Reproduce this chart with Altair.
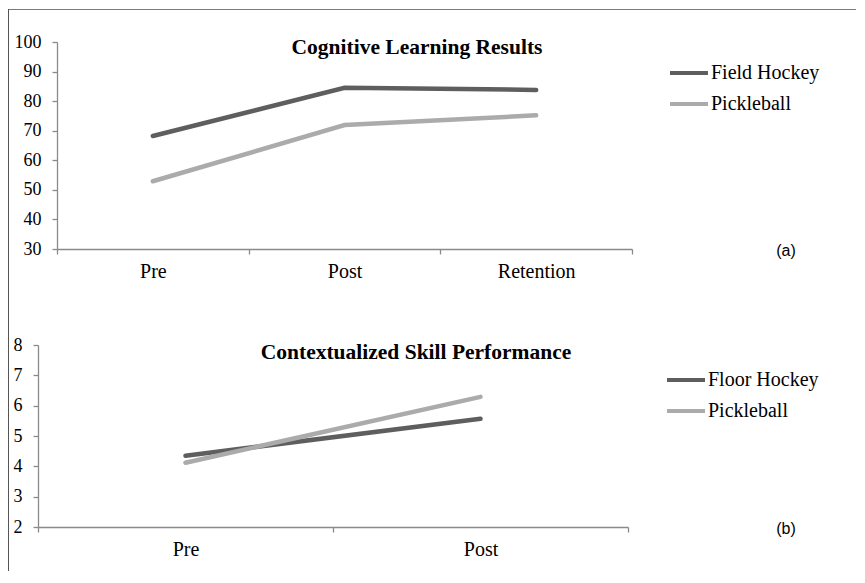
import altair as alt
import pandas as pd

# ---- data ----
phases_a = ["Pre", "Post", "Retention"]
series_a = ["Field Hockey", "Pickleball"]
field_hockey = [68.2, 84.5, 83.8]
pickleball_a = [52.9, 71.9, 75.2]
y_ticks_a = [30, 40, 50, 60, 70, 80, 90, 100]
title_a = "Cognitive Learning Results"
tag_a = "(a)"

phases_b = ["Pre", "Post"]
series_b = ["Floor Hockey", "Pickleball"]
floor_hockey = [4.35, 5.57]
pickleball_b = [4.12, 6.29]
y_ticks_b = [2, 3, 4, 5, 6, 7, 8]
title_b = "Contextualized Skill Performance"
tag_b = "(b)"

DARK = "#5e5e5e"
LIGHT = "#ababab"
AXIS = "#8a8a8a"
SERIF = "Liberation Serif"
SANS = "Liberation Sans"

df_a = pd.DataFrame({
    "phase": phases_a * 2,
    "score": field_hockey + pickleball_a,
    "series": [series_a[0]] * len(phases_a) + [series_a[1]] * len(phases_a),
})
df_b = pd.DataFrame({
    "phase": phases_b * 2,
    "score": floor_hockey + pickleball_b,
    "series": [series_b[0]] * len(phases_b) + [series_b[1]] * len(phases_b),
})


def x_axis():
    return alt.Axis(title=None, labelAngle=0, tickBand="extent", grid=False,
                    labelFont=SERIF, labelFontSize=20, labelColor="black",
                    domainColor=AXIS, tickColor=AXIS, tickSize=5,
                    domainWidth=1.3, tickWidth=1.3, labelPadding=7)


def y_axis(values, offset=0):
    return alt.Axis(values=values, title=None, grid=False, offset=offset,
                    labelFont=SERIF, labelFontSize=18, labelColor="black",
                    domainColor=AXIS, tickColor=AXIS, tickSize=5,
                    domainWidth=1.3, tickWidth=1.3, labelPadding=11)


def legend(x, y):
    return alt.Legend(orient="none", legendX=x, legendY=y, title=None,
                      symbolType="stroke", symbolSize=1444, symbolStrokeWidth=4,
                      labelFont=SERIF, labelFontSize=20, labelColor="black",
                      labelOffset=1, rowPadding=-4, padding=0)


def text_layer(txt, x, y, font, size, weight="normal"):
    return alt.Chart(pd.DataFrame({"t": [txt]})).mark_text(
        font=font, fontSize=size, fontWeight=weight, align="center",
        baseline="middle", color="black"
    ).encode(text="t:N", x=alt.value(x), y=alt.value(y))


# ---- panel (a) ----
lines_a = alt.Chart(df_a).mark_line(strokeWidth=4.5, strokeCap="round").encode(
    x=alt.X("phase:N", bandPosition=0.5,
            scale=alt.Scale(type="band", domain=phases_a, paddingInner=0, paddingOuter=0),
            axis=x_axis()),
    y=alt.Y("score:Q", scale=alt.Scale(domain=[30, 100], nice=False, zero=False),
            axis=y_axis(y_ticks_a)),
    color=alt.Color("series:N", scale=alt.Scale(domain=series_a, range=[DARK, LIGHT]),
                    legend=legend(611, 10)),
    detail="series:N",
)

frame_df = pd.DataFrame({"k": [0]})
frame_top = alt.Chart(frame_df).mark_rule(color="#7a7a7a", strokeWidth=1).encode(
    x=alt.value(-48.5), x2=alt.value(799), y=alt.value(-32.5))
frame_left = alt.Chart(frame_df).mark_rule(color="#555555", strokeWidth=1).encode(
    x=alt.value(-48.5), y=alt.value(-33), y2=alt.value(529))

panel_a = alt.layer(
    frame_top, frame_left, lines_a,
    text_layer(title_a, 360, 6, SERIF, 21.5, "bold"),
    text_layer(tag_a, 729, 209, SANS, 16),
).properties(width=575, height=207)

# ---- panel (b) ----
lines_b = alt.Chart(df_b).mark_line(strokeWidth=4.5, strokeCap="round").encode(
    x=alt.X("phase:N", bandPosition=0.5,
            scale=alt.Scale(type="band", domain=phases_b, range=[-19, 571],
                            paddingInner=0, paddingOuter=0),
            axis=x_axis()),
    y=alt.Y("score:Q", scale=alt.Scale(domain=[2, 8], nice=False, zero=False),
            axis=y_axis(y_ticks_b, offset=19)),
    color=alt.Color("series:N", scale=alt.Scale(domain=series_b, range=[DARK, LIGHT]),
                    legend=legend(608, 14)),
    detail="series:N",
)

panel_b = alt.layer(
    lines_b,
    text_layer(title_b, 359, 8, SERIF, 21.5, "bold"),
    text_layer(tag_b, 729, 184, SANS, 16),
).properties(width=571, height=182)

chart = alt.vconcat(panel_a, panel_b, spacing=96, bounds="flush").resolve_scale(
    x="independent", y="independent", color="independent"
).resolve_legend(color="independent").properties(padding=0).configure_view(stroke=None)

chart.save("out.html", embed_options={"renderer": "svg", "actions": False})
